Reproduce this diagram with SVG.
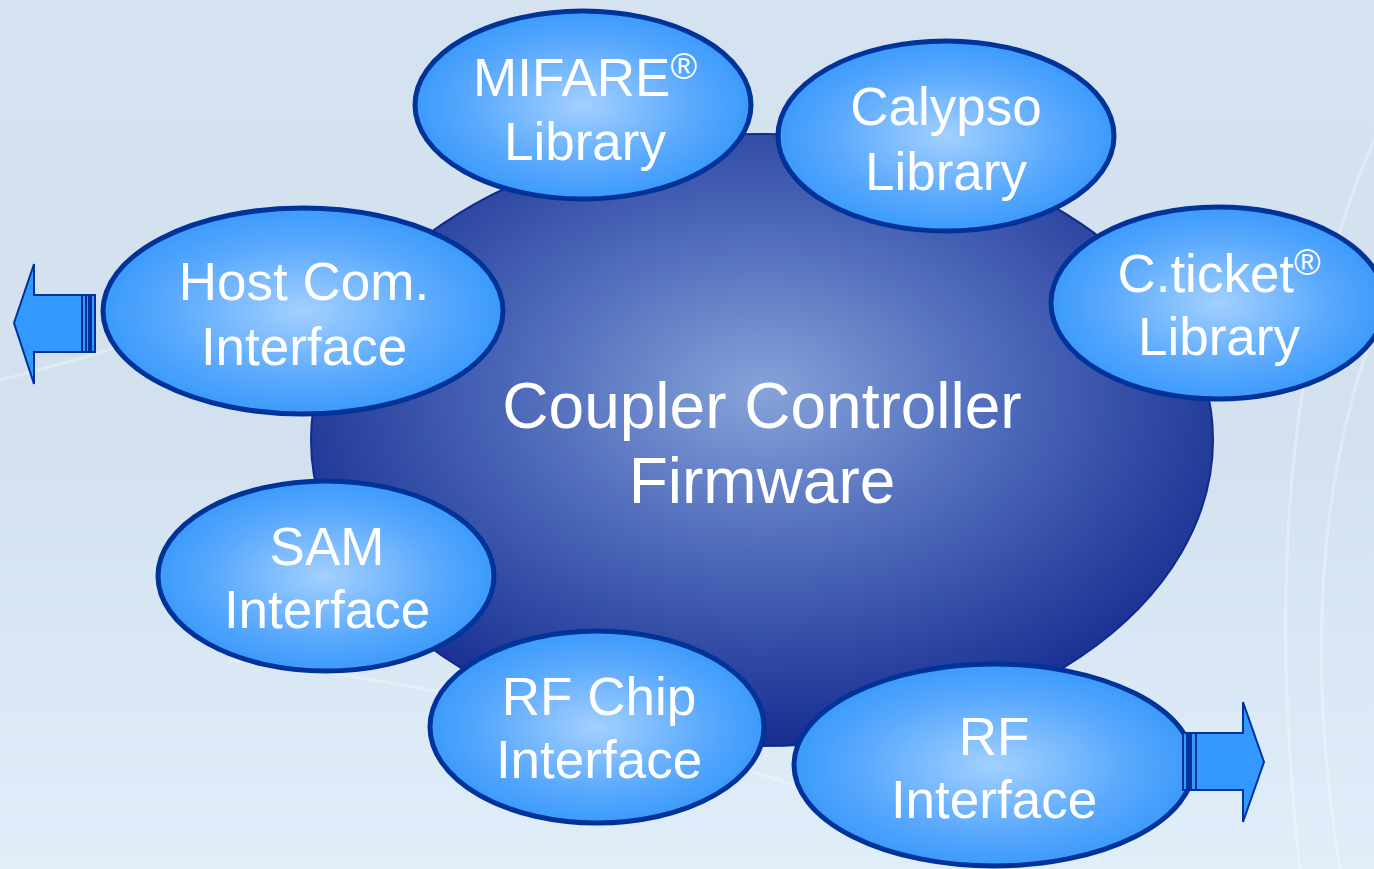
<svg xmlns="http://www.w3.org/2000/svg" width="1374" height="869" viewBox="0 0 1374 869">
<defs>
<linearGradient id="bg" x1="0" y1="0" x2="0" y2="1">
<stop offset="0" stop-color="#d5e3f0"/>
<stop offset="0.5" stop-color="#d3e1ef"/>
<stop offset="1" stop-color="#dfeef9"/>
</linearGradient>
<radialGradient id="core" cx="0.5" cy="0.42" r="0.6">
<stop offset="0" stop-color="#86a3da"/>
<stop offset="0.45" stop-color="#4d69b9"/>
<stop offset="1" stop-color="#132a8e"/>
</radialGradient>
<radialGradient id="node" cx="0.5" cy="0.5" r="0.55">
<stop offset="0" stop-color="#a3d0ff"/>
<stop offset="0.6" stop-color="#5aa9fd"/>
<stop offset="1" stop-color="#3396fb"/>
</radialGradient>
<style>
.n{fill:url(#node);stroke:#003399;stroke-width:5}
.t{font-family:"Liberation Sans",Arial,sans-serif;font-size:53px;fill:#ffffff;text-anchor:middle}
.c{font-family:"Liberation Sans",Arial,sans-serif;font-size:64px;fill:#ffffff;text-anchor:middle}
.ar{fill:#3399ff;stroke:#003399;stroke-width:2}
.bgl{fill:none;stroke:#ffffff;stroke-opacity:0.3;stroke-width:3}
</style>
</defs>
<rect width="1374" height="869" fill="url(#bg)"/>
<g id="background-lines">
<path class="bgl" d="M1374 140 Q1250 420 1300 869"/>
<path class="bgl" d="M1374 330 Q1290 560 1340 869"/>
<path class="bgl" d="M230 660 Q600 700 1000 860"/>
<path class="bgl" d="M330 650 Q700 640 1100 860"/>
<path class="bgl" d="M0 380 Q200 330 430 230"/>
</g>
<g id="core-firmware">
<ellipse cx="762" cy="440" rx="451" ry="306" fill="url(#core)" stroke="#102a8c" stroke-width="2"/>
<text class="c" x="762" y="428">Coupler Controller</text>
<text class="c" x="762" y="503">Firmware</text>
</g>
<g id="mifare">
<ellipse class="n" cx="583" cy="105" rx="168" ry="94"/>
<text class="t" x="585" y="96">MIFARE<tspan font-size="36" dy="-17">®</tspan></text>
<text class="t" x="585" y="160">Library</text>
</g>
<g id="calypso">
<ellipse class="n" cx="946" cy="136" rx="168" ry="95"/>
<text class="t" x="946" y="125">Calypso</text>
<text class="t" x="946" y="190">Library</text>
</g>
<g id="cticket">
<ellipse class="n" cx="1218" cy="303" rx="167" ry="96"/>
<text class="t" x="1219" y="292">C.ticket<tspan font-size="36" dy="-17">®</tspan></text>
<text class="t" x="1219" y="355">Library</text>
</g>
<g id="host-com">
<ellipse class="n" cx="303" cy="311" rx="200" ry="103"/>
<text class="t" x="304" y="300">Host Com.</text>
<text class="t" x="304" y="365">Interface</text>
</g>
<g id="sam">
<ellipse class="n" cx="326" cy="576" rx="168" ry="95"/>
<text class="t" x="327" y="565">SAM</text>
<text class="t" x="327" y="628">Interface</text>
</g>
<g id="rf-chip">
<ellipse class="n" cx="597" cy="727" rx="167" ry="96"/>
<text class="t" x="599" y="715">RF Chip</text>
<text class="t" x="599" y="778">Interface</text>
</g>
<g id="rf-interface">
<ellipse class="n" cx="994" cy="765" rx="200" ry="101"/>
<text class="t" x="994" y="755">RF</text>
<text class="t" x="994" y="818">Interface</text>
</g>
<g id="connectors">
<g id="arrow-left">
<path class="ar" d="M82 295 L34 295 L34 264 L14 323 L34 384 L34 352 L82 352 Z"/>
<rect class="ar" x="82" y="295" width="4" height="57" stroke-width="1.5"/>
<rect class="ar" x="86" y="295" width="3" height="57" stroke-width="1.5"/>
<rect class="ar" x="91" y="295" width="4" height="57" stroke-width="1.5"/>
</g>
<g id="arrow-right">
<path class="ar" d="M1196 733 L1243 733 L1243 702 L1264 762 L1243 822 L1243 790 L1196 790 Z"/>
<rect class="ar" x="1183" y="733" width="4" height="57" stroke-width="1.5"/>
<rect class="ar" x="1188" y="733" width="2" height="57" stroke-width="1.5"/>
<rect class="ar" x="1191" y="733" width="5" height="57" stroke-width="1.5"/>
</g>
</g>
</svg>
